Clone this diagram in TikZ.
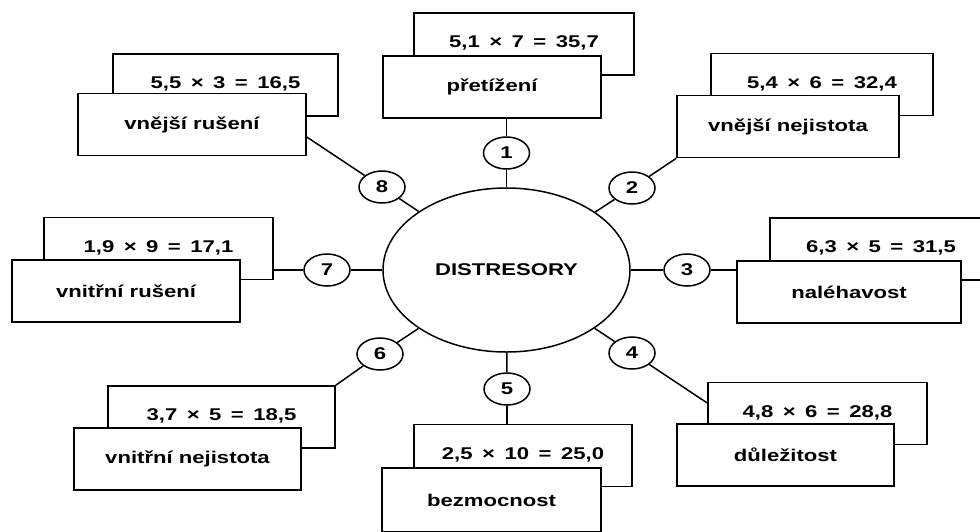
\documentclass[tikz,border=0pt]{standalone}
\usepackage{fontspec}
\newfontfamily\lab{Liberation Sans}[FakeStretch=1.3]
\usetikzlibrary{shapes.geometric}
\tikzset{
  txt/.style={font=\lab\bfseries\fontsize{17}{19}\selectfont, text=black},
  box/.style={txt, draw, fill=white, line width=1.5pt, minimum height=62pt, inner sep=0pt},
  backbox/.style={box},
  num/.style={txt, draw, fill=white, ellipse, line width=1.5pt, minimum width=46pt, minimum height=32pt, inner sep=0pt},
  conn/.style={line width=1.5pt}
}
\newcommand{\up}[1]{\raisebox{4pt}{#1}}
\newcommand{\gp}{\hspace{9.5pt}}
\begin{document}
\begin{tikzpicture}[x=1pt,y=-1pt]
\useasboundingbox (0,0) rectangle (980,531);
% central ellipse
\node[txt, draw, ellipse, line width=1.5pt, minimum width=247pt, minimum height=164pt, inner sep=0pt] (ce) at (506.5,270) {DISTRESORY};
% numbered circles
\node[num] (n1) at (506.5,153) {1};
\node[num] (n2) at (632,188) {2};
\node[num] (n3) at (687,270) {3};
\node[num] (n4) at (632,353) {4};
\node[num] (n5) at (507,389) {5};
\node[num] (n6) at (380,354) {6};
\node[num] (n7) at (327,270) {7};
\node[num] (n8) at (382,187) {8};
% back boxes
\node[backbox, minimum width=220pt] (b1) at (524,44) {\up{5,1\gp×\gp7\gp=\gp35,7}};
\node[backbox, minimum width=222pt] (b2) at (822,84.5) {\up{5,4\gp×\gp6\gp=\gp32,4}};
\node[backbox, minimum width=222pt] (b3) at (881,249) {\up{6,3\gp×\gp5\gp=\gp31,5}};
\node[backbox, minimum width=219pt] (b4) at (817.5,413.5) {\up{4,8\gp×\gp6\gp=\gp28,8}};
\node[backbox, minimum width=218pt] (b5) at (523,455.5) {\up{2,5\gp×\gp10\gp=\gp25,0}};
\node[backbox, minimum width=227pt] (b6) at (221.5,417) {\up{3,7\gp×\gp5\gp=\gp18,5}};
\node[backbox, minimum width=229pt] (b7) at (158.5,248.5) {\up{1,9\gp×\gp9\gp=\gp17,1}};
\node[backbox, minimum width=225pt] (b8) at (225.5,85) {\up{5,5\gp×\gp3\gp=\gp16,5}};
% front boxes
\node[box, minimum width=218pt] (f1) at (492,87) {přetížení};
\node[box, minimum width=222pt] (f2) at (788,126.5) {vnější nejistota};
\node[box, minimum width=224pt] (f3) at (849,292) {naléhavost};
\node[box, minimum width=217pt] (f4) at (785.5,455) {důležitost};
\node[box, minimum width=219pt, minimum height=64pt] (f5) at (491.5,500) {bezmocnost};
\node[box, minimum width=227pt] (f6) at (187.5,459) {vnitřní nejistota};
\node[box, minimum width=228pt] (f7) at (126,291) {vnitřní rušení};
\node[box, minimum width=228pt] (f8) at (192,124.5) {vnější rušení};
% attachment points
\coordinate (a4) at (b4.west |- 0,403);
\coordinate (a8) at (f8.east |- 0,137);
% connectors
\draw[conn] (ce) -- (n1);
\draw[conn] (n1) -- (n1 |- f1.south);
\draw[conn] (ce) -- (n2);
\draw[conn] (n2) -- (f2.south west);
\draw[conn] (ce) -- (n3);
\draw[conn] (n3) -- (n3 -| f3.west);
\draw[conn] (ce) -- (n4);
\draw[conn] (n4) -- (a4);
\draw[conn] (ce) -- (n5);
\draw[conn] (n5) -- (n5 |- b5.north);
\draw[conn] (ce) -- (n6);
\draw[conn] (n6) -- (b6.north east);
\draw[conn] (ce) -- (n7);
\draw[conn] (n7) -- (n7 -| b7.east);
\draw[conn] (ce) -- (n8);
\draw[conn] (n8) -- (a8);
\end{tikzpicture}
\end{document}
